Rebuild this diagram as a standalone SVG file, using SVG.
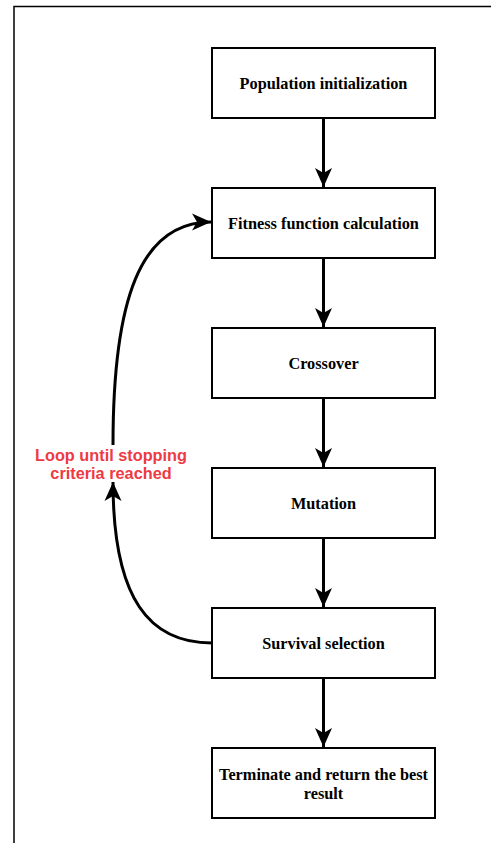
<svg xmlns="http://www.w3.org/2000/svg" width="491" height="843" viewBox="0 0 491 843">
<defs>
<style>
.box{fill:#fff;stroke:#000;stroke-width:2}
.lbl{font-family:"Liberation Serif","Times New Roman",serif;font-weight:bold;font-size:16.3px;fill:#000;text-anchor:middle}
.edge{fill:none;stroke:#000;stroke-width:3}
.note{font-family:"Liberation Sans",Arial,sans-serif;font-weight:bold;font-size:16.3px;fill:#EE3A43;text-anchor:middle}
</style>
<marker id="ah" markerUnits="userSpaceOnUse" markerWidth="20" markerHeight="20" viewBox="-19 -10 20 20" refX="0" refY="0" orient="auto" overflow="visible">
<path d="M0,0 L-19,-8.5 L-14,0 L-19,8.5 Z" fill="#000"/>
</marker>
</defs>
<rect width="491" height="843" fill="#fff"/>
<path d="M14,843 V6.5 H491" fill="none" stroke="#000" stroke-width="1.5"/>
<g id="connectors">
<line class="edge" x1="323.5" y1="118" x2="323.5" y2="187" marker-end="url(#ah)"/>
<line class="edge" x1="323.5" y1="258" x2="323.5" y2="327" marker-end="url(#ah)"/>
<line class="edge" x1="323.5" y1="398" x2="323.5" y2="467" marker-end="url(#ah)"/>
<line class="edge" x1="323.5" y1="538" x2="323.5" y2="607" marker-end="url(#ah)"/>
<line class="edge" x1="323.5" y1="678" x2="323.5" y2="747" marker-end="url(#ah)"/>
<path class="edge" d="M212,643 C150,643 113,600 113,482" marker-end="url(#ah)"/>
<path class="edge" d="M113,445 C113,300 140,222 211,222" marker-end="url(#ah)"/>
</g>
<g id="n1"><rect class="box" x="212" y="48" width="223" height="70"/><text class="lbl" x="323.5" y="88.5">Population initialization</text></g>
<g id="n2"><rect class="box" x="212" y="188" width="223" height="70"/><text class="lbl" x="323.5" y="228.5">Fitness function calculation</text></g>
<g id="n3"><rect class="box" x="212" y="328" width="223" height="70"/><text class="lbl" x="323.5" y="368.5">Crossover</text></g>
<g id="n4"><rect class="box" x="212" y="468" width="223" height="70"/><text class="lbl" x="323.5" y="508.5">Mutation</text></g>
<g id="n5"><rect class="box" x="212" y="608" width="223" height="70"/><text class="lbl" x="323.5" y="648.5">Survival selection</text></g>
<g id="n6"><rect class="box" x="212" y="748" width="223" height="70"/><text class="lbl" x="323.5" y="780">Terminate and return the best</text><text class="lbl" x="323.5" y="799">result</text></g>
<g id="loop-label"><text class="note" x="111" y="461">Loop until stopping</text><text class="note" x="111" y="479">criteria reached</text></g>
</svg>
